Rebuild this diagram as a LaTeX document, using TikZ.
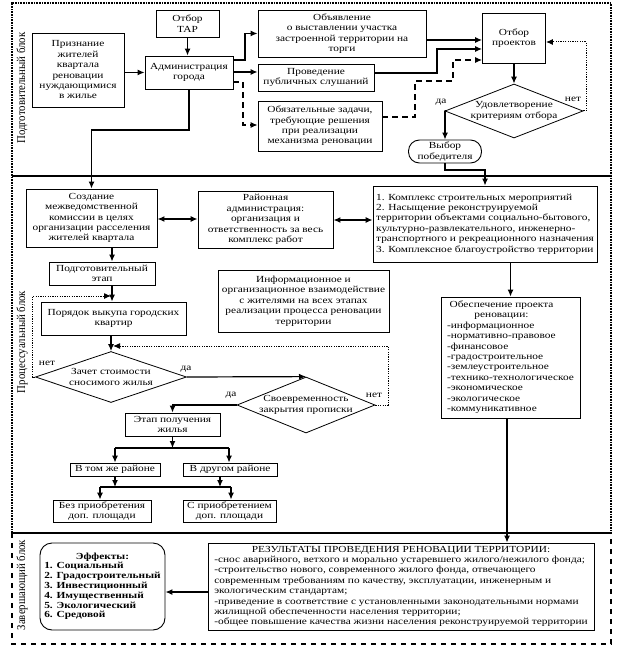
\documentclass[tikz,border=0pt]{standalone}
\usepackage{fontspec}
\setmainfont{Liberation Serif}[FakeStretch=1.22]
\newfontfamily\lblfont{Liberation Serif}[FakeStretch=0.9]
\usetikzlibrary{arrows.meta,shapes.geometric,calc}
\newcommand\myfs{\fontsize{9.3}{10.4}\selectfont}
\newcommand\myeff{\fontsize{9.3}{9.8}\selectfont\bfseries}
\newcommand\mylbl{\lblfont\fontsize{12}{13}\selectfont}
\tikzset{
  box/.style={draw, line width=0.9pt, fill=white, align=center, inner sep=1pt, font=\myfs},
  dia/.style={draw, diamond, line width=0.8pt, inner sep=0pt, fill=white},
  txt/.style={align=center, inner sep=0pt, font=\myfs},
  lab/.style={inner sep=0pt, font=\myfs},
  arr/.style={-{Latex[length=7pt,width=6pt]}, line width=1.2pt},
  arrboth/.style={{Latex[length=7pt,width=6pt]}-{Latex[length=7pt,width=6pt]}, line width=1.2pt},
  plain/.style={line width=1.2pt},
  dasharr/.style={-{Latex[length=7pt,width=6pt]}, line width=1.1pt, dash pattern=on 6pt off 4pt},
  dotarr/.style={-{Latex[length=7pt,width=6pt]}, line width=1pt, dash pattern=on 1.2pt off 1.2pt},
  side/.style={rotate=90, inner sep=0pt, font=\mylbl},
  dotb/.style={line width=1.5pt, dash pattern=on 0.8pt off 0.8pt},
  sepl/.style={line width=1.5pt},
  dashb/.style={line width=2pt, dash pattern=on 5pt off 5pt}
}
\begin{document}
\begin{tikzpicture}[x=1pt,y=-1pt]
\useasboundingbox (0,0) rectangle (623,647);
% block frames
\draw[dotb] (12,533) -- (12,3) -- (611,3) -- (611,533);
\draw[sepl] (12,176) -- (611,176);
\draw[sepl] (12,533) -- (611,533);
\draw[dashb] (12,533) -- (12,644) -- (611,644) -- (611,533);
\node[side] (l1) at (22,88) {Подготовительный блок};
\node[side] (l2) at (22,342) {Процессуальный блок};
\node[side] (l3) at (22,585) {Завершающий блок};

% top block
\node[box, minimum width=92pt, minimum height=74pt] (priz) at (78,70) {Признание\\жителей\\квартала\\реновации\\нуждающимися\\в жилье};
\node[box, minimum width=63pt, minimum height=27pt] (tar) at (187.5,23.5) {Отбор\\ТАР};
\node[box, minimum width=88pt, minimum height=33pt] (adm) at (189,72.5) {Администрация\\города};
\node[box, minimum width=168pt, minimum height=47pt] (obyav) at (342,33.5) {Объявление\\о выставлении участка\\застроенной территории на\\торги};
\node[box, minimum width=116pt, minimum height=27pt] (publ) at (316,77.5) {Проведение\\публичных слушаний};
\node[box, minimum width=124pt, minimum height=50pt] (zad) at (320,126) {Обязательные задачи,\\требующие решения\\при реализации\\механизма реновации};
\node[box, minimum width=63pt, minimum height=50pt] (otbor) at (514,38) {Отбор\\проектов};
\node[dia, minimum width=138pt, minimum height=54pt] (udov) at (514,111) {};
\node[txt] (udovT) at (514,111) {Удовлетворение\\критериям отбора};
\node[box, rounded corners=11pt, minimum width=73pt, minimum height=23pt] (vybor) at (445,151.5) {Выбор\\победителя};

% middle block nodes
\node[box, minimum width=131pt, minimum height=58pt] (sozd) at (91.5,218) {Создание\\межведомственной\\комиссии в целях\\организации расселения\\жителей квартала};
\node[box, minimum width=135pt, minimum height=57pt] (rayon) at (265.5,219.5) {Районная\\администрация:\\организация и\\ответственность за весь\\комплекс работ};
\node[box, align=left, minimum width=224pt, minimum height=76pt] (kompl) at (485,224) {1. Комплекс строительных мероприятий\\2. Насыщение реконструируемой\\территории объектами социально-бытового,\\культурно-развлекательного, инженерно-\\транспортного и рекреационного назначения\\3. Комплексное благоустройство территории};
\node[box, minimum width=139pt, minimum height=121pt] (obesp) at (510.5,357.5) {\begin{tabular}{@{}l@{}}\multicolumn{1}{@{}c@{\hspace{18pt}}}{Обеспечение проекта}\\\multicolumn{1}{@{}c@{\hspace{18pt}}}{реновации:}\\-информационное\\-нормативно-правовое\\-финансовое\\-градостроительное\\-землеустроительное\\-технико-технологическое\\-экономическое\\-экологическое\\-коммуникативное\end{tabular}};
\node[box, minimum width=106pt, minimum height=23pt] (podg) at (102,273.5) {Подготовительный\\этап};
\node[box, minimum width=171pt, minimum height=62pt] (info) at (303.5,301) {Информационное и\\организационное взаимодействие\\с жителями на всех этапах\\реализации процесса реновации\\территории};
\node[box, minimum width=145pt, minimum height=33pt] (poryad) at (113.5,318.5) {Порядок выкупа городских\\квартир};
\node[dia, minimum width=151pt, minimum height=51pt] (zachet) at (111,377) {};
\node[txt] (zachetT) at (111,377) {Зачет стоимости\\сносимого жилья};
\node[dia, minimum width=138pt, minimum height=56pt] (svoevr) at (306,405) {};
\node[txt] (svoevrT) at (306,405) {Своевременность\\закрытия прописки};
\node[box, minimum width=95pt, minimum height=23pt] (etap) at (172.5,424.5) {Этап получения\\жилья};
\node[box, minimum width=90pt, minimum height=13pt] (tom) at (115,469.5) {В том же районе};
\node[box, minimum width=94pt, minimum height=13pt] (drug) at (230,469.5) {В другом районе};
\node[box, minimum width=98pt, minimum height=22pt] (bez) at (102,511) {Без приобретения\\доп. площади};
\node[box, minimum width=93pt, minimum height=22pt] (spr) at (229.5,511) {С приобретением\\доп. площади};

% bottom block nodes
\node[box, rounded corners=12pt, minimum width=125pt, minimum height=87pt, font=\myeff] (eff) at (102.5,586.5) {\begin{tabular}{@{}l@{}}\multicolumn{1}{@{}c@{}}{Эффекты:}\\1. Социальный\\2. Градостроительный\\3. Инвестиционный\\4. Имущественный\\5. Экологический\\6. Средовой\end{tabular}};
\node[box, minimum width=386pt, minimum height=87pt] (rez) at (401,586.5) {\begin{tabular}{@{}l@{}}\multicolumn{1}{@{}c@{}}{РЕЗУЛЬТАТЫ ПРОВЕДЕНИЯ РЕНОВАЦИИ ТЕРРИТОРИИ:}\\-снос аварийного, ветхого и морально устаревшего жилого/нежилого фонда;\\-строительство нового, современного жилого фонда, отвечающего\\современным требованиям по качеству, эксплуатации, инженерным и\\экологическим стандартам;\\-приведение в соответствие с установленными законодательными нормами\\жилищной обеспеченности населения территории;\\-общее повышение качества жизни населения реконструируемой территории\end{tabular}};

% top connectors
\draw[arr] (priz.east |- adm.west) -- (adm.west);
\draw[arr] (tar.south) -- (tar.south |- adm.north);
\draw[arr] (adm.east |- 0,60) -- (245,60) |- (obyav.west);
\draw[arr] (adm.east |- 0,72) -- (publ.west |- 0,72);
\draw[dasharr] (adm.east |- 0,82) -- (243,82) |- (zad.west |- 0,125);
\draw[arr] (obyav.east |- 0,40) -- (otbor.west |- 0,40);
\draw[arr] (publ.east |- 0,73) -- (437,73) |- (otbor.west |- 0,49);
\draw[dasharr] (zad.east |- 0,117) -- (415,117) -- (415,81) -- (453,81) |- (otbor.west |- 0,60);
\draw[arr] (otbor.south) -- (udov.north);
\draw[dotarr] (udov.east) -- (586,111) |- (otbor.east |- 0,42);
\draw[arr] (udov.west) -| (vybor.north);
\node[lab] (da1) at (441,102) {да};
\node[lab] (net1) at (573,99) {нет};
\draw[arr] (vybor.south) -- (vybor.south |- 0,170) -| (kompl.north);
\draw[arr] (adm.south) -- (adm.south |- 0,130) -| (sozd.north);

% middle connectors
\coordinate (m1) at (111,296);
\coordinate (m2) at (113,346);
\coordinate (bar1) at (172.5,448);
\coordinate (b1a) at (115,448);
\coordinate (b1b) at (229,448);
\coordinate (b2a) at (100,487);
\coordinate (b2b) at (231,487);

\draw[arrboth] (sozd.east |- 0,219) -- (rayon.west |- 0,219);
\draw[arrboth] (rayon.east |- 0,220) -- (kompl.west |- 0,220);
\draw[arr] (obesp.north |- kompl.south) -- (obesp.north);
\draw[arr] (sozd.south -| 112,0) -- (podg.north -| 112,0);
\draw[arr] (podg.south -| 112,0) -- (poryad.north -| 112,0);
\draw[arr] (poryad.south -| zachet.north) -- (zachet.north);
\draw[dotarr] (zachet.west) -- ++(-2.5,0) |- (m1);
\draw[dotarr] (svoevr.east) -- (388,405) |- (m2);
\draw[arr] (zachet.east) -- (svoevr.north);
\node[lab] (net2) at (47,363) {нет};
\node[lab] (da2) at (186,369) {да};
\node[lab] (da3) at (231,395) {да};
\node[lab] (net3) at (374,395) {нет};
\draw[arr] (svoevr.west) -| (etap.north);
\draw[arr] (etap.south) -- (bar1);
\draw[plain] (b1a) -- (b1b);
\draw[arr] (b1a) -- (tom.north);
\draw[arr] (b1b) -- (b1b |- drug.north);
\draw[plain] (b2a) -- (b2b);
\draw[arr] (tom.south) -- (tom.south |- b2a);
\draw[arr] ([xshift=-10pt]drug.south) -- ([xshift=-10pt]drug.south |- b2a);
\draw[arr] (b2a) -- (b2a |- bez.north);
\draw[arr] (b2b) -- (b2b |- spr.north);

% bottom connectors
\draw[arr] (obesp.south -| 507,0) -- (rez.north -| 507,0);
\draw[arr] (rez.west |- 0,592) -- (eff.east |- 0,592);
\end{tikzpicture}
\end{document}
